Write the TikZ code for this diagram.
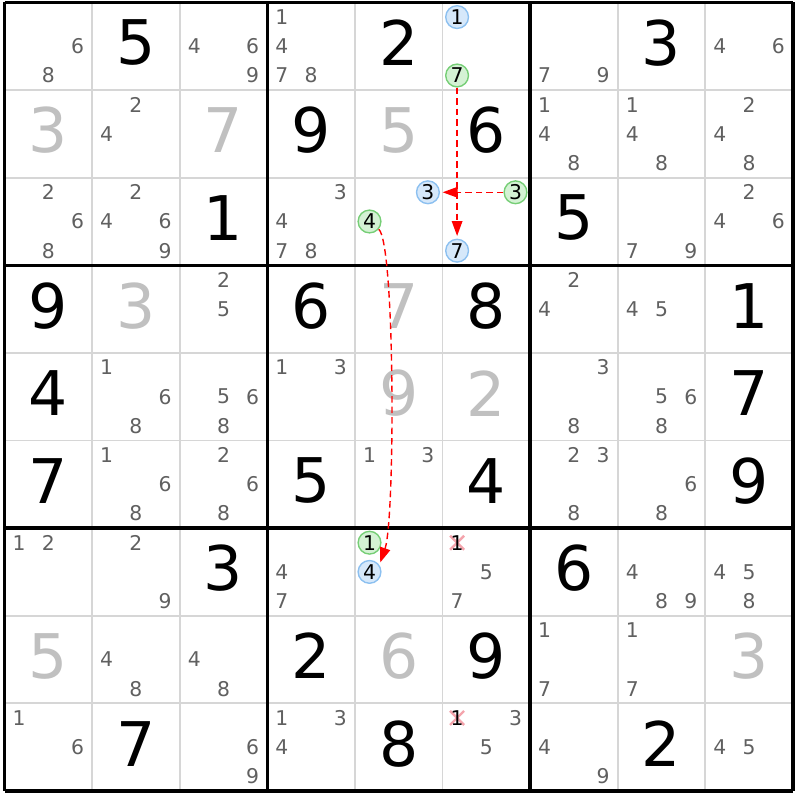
\documentclass[tikz,border=0pt]{standalone}
\usepackage{fontspec}
\setmainfont{DejaVu Sans}
\usepackage{tikz}
\usetikzlibrary{arrows.meta}
\usepackage{xcolor}
\definecolor{pencil}{RGB}{96,96,96}
\definecolor{solvedgrey}{RGB}{192,192,192}
\definecolor{gridgrey}{RGB}{214,214,214}
\definecolor{bluefill}{RGB}{214,232,250}
\definecolor{bluedraw}{RGB}{140,192,240}
\definecolor{greenfill}{RGB}{212,242,212}
\definecolor{greendraw}{RGB}{118,206,118}
\definecolor{xpink}{RGB}{244,164,172}

\begin{document}
\begin{tikzpicture}[x=1cm,y=-1cm,
	given/.style={font=\fontsize{20}{20}\selectfont,inner sep=0pt},
	solved/.style={given,text=solvedgrey},
	cand/.style={font=\fontsize{6.6}{6.6}\selectfont,text=pencil,inner sep=0pt},
	bluecand/.style={cand,text=black,circle,draw=bluedraw,fill=bluefill,line width=0.45pt,minimum size=0.26cm},
	greencand/.style={bluecand,draw=greendraw,fill=greenfill},
	xmark/.style={xpink,line width=0.8pt},
	link/.style={red,line width=0.45pt,dash pattern=on 0.075cm off 0.045cm,shorten >=0.03cm,-{Triangle[length=0.17cm,width=0.12cm]}}]
	\useasboundingbox (-0.0514,-0.0285) rectangle (9.081,9.104);
	% grid
	\foreach \i in {1,2,4,5,7,8}{
		\draw[gridgrey,line width=0.6pt] (\i,0) -- (\i,9);
		\draw[gridgrey,line width=0.6pt] (0,\i) -- (9,\i);
	}
	\foreach \i in {0,3,6,9}{
		\draw[line width=1.1pt] (\i,0) -- (\i,9);
		\draw[line width=1.1pt] (0,\i) -- (9,\i);
	}
	% givens and solved cells
	\foreach \r/\c/\d in {1/2/5,1/5/2,1/8/3,2/4/9,2/6/6,3/3/1,3/7/5,4/1/9,4/4/6,4/6/8,4/9/1,5/1/4,5/9/7,6/1/7,6/4/5,6/6/4,6/9/9,7/3/3,7/7/6,8/4/2,8/6/9,9/2/7,9/5/8,9/8/2}
		\node[given] (cell-\r-\c) at (\c-0.5,\r-0.54) {\d};
	\foreach \r/\c/\d in {2/1/3,2/3/7,2/5/5,4/2/3,4/5/7,5/5/9,5/6/2,8/1/5,8/5/6,8/9/3}
		\node[solved] (cell-\r-\c) at (\c-0.5,\r-0.54) {\d};
	% pencil marks
	\foreach \r/\c/\ds in {1/1/{6,8},1/3/{4,6,9},1/4/{1,4,7,8},1/7/{7,9},1/9/{4,6},
		2/2/{2,4},2/7/{1,4,8},2/8/{1,4,8},2/9/{2,4,8},
		3/1/{2,6,8},3/2/{2,4,6,9},3/4/{3,4,7,8},3/8/{7,9},3/9/{2,4,6},
		4/3/{2,5},4/7/{2,4},4/8/{4,5},
		5/2/{1,6,8},5/3/{5,6,8},5/4/{1,3},5/7/{3,8},5/8/{5,6,8},
		6/2/{1,6,8},6/3/{2,6,8},6/5/{1,3},6/7/{2,3,8},6/8/{6,8},
		7/1/{1,2},7/2/{2,9},7/4/{4,7},7/6/{5,7},7/8/{4,8,9},7/9/{4,5,8},
		8/2/{4,8},8/3/{4,8},8/7/{1,7},8/8/{1,7},
		9/1/{1,6},9/3/{6,9},9/4/{1,3,4},9/6/{3,5},9/7/{4,9},9/9/{4,5}}
		\foreach \d in \ds
			\node[cand] (pm-\r-\c-\d) at ({\c-1+(mod(\d-1,3)+0.5)/3},{\r-1+(int((\d-1)/3)+0.5)/3}) {\d};
	% coloured candidates
	\foreach \r/\c/\d/\s in {1/6/1/bluecand,1/6/7/greencand,3/5/3/bluecand,3/5/4/greencand,3/6/3/greencand,3/6/7/bluecand,7/5/1/greencand,7/5/4/bluecand}
		\node[\s] (pm-\r-\c-\d) at ({\c-1+(mod(\d-1,3)+0.5)/3},{\r-1+(int((\d-1)/3)+0.5)/3}) {\d};
	% eliminated candidates
	\foreach \r in {7,9}{
		\coordinate (x-\r) at (5+0.5/3,\r-1+0.5/3);
		\draw[xmark] (x-\r) +(-0.08,-0.08) -- +(0.08,0.08) (x-\r) +(-0.08,0.08) -- +(0.08,-0.08);
		\node[cand,text=black] (pm-\r-6-1) at (x-\r) {1};
	}
	% chain
	\draw[link] (pm-1-6-7) -- (pm-3-6-7);
	\draw[link] (pm-3-6-3) -- (pm-3-5-3);
	\draw[link] (pm-3-5-4.-40) .. controls (4.46,2.75) and (4.46,5.9) .. (pm-7-5-4.35);
\end{tikzpicture}
\end{document}
